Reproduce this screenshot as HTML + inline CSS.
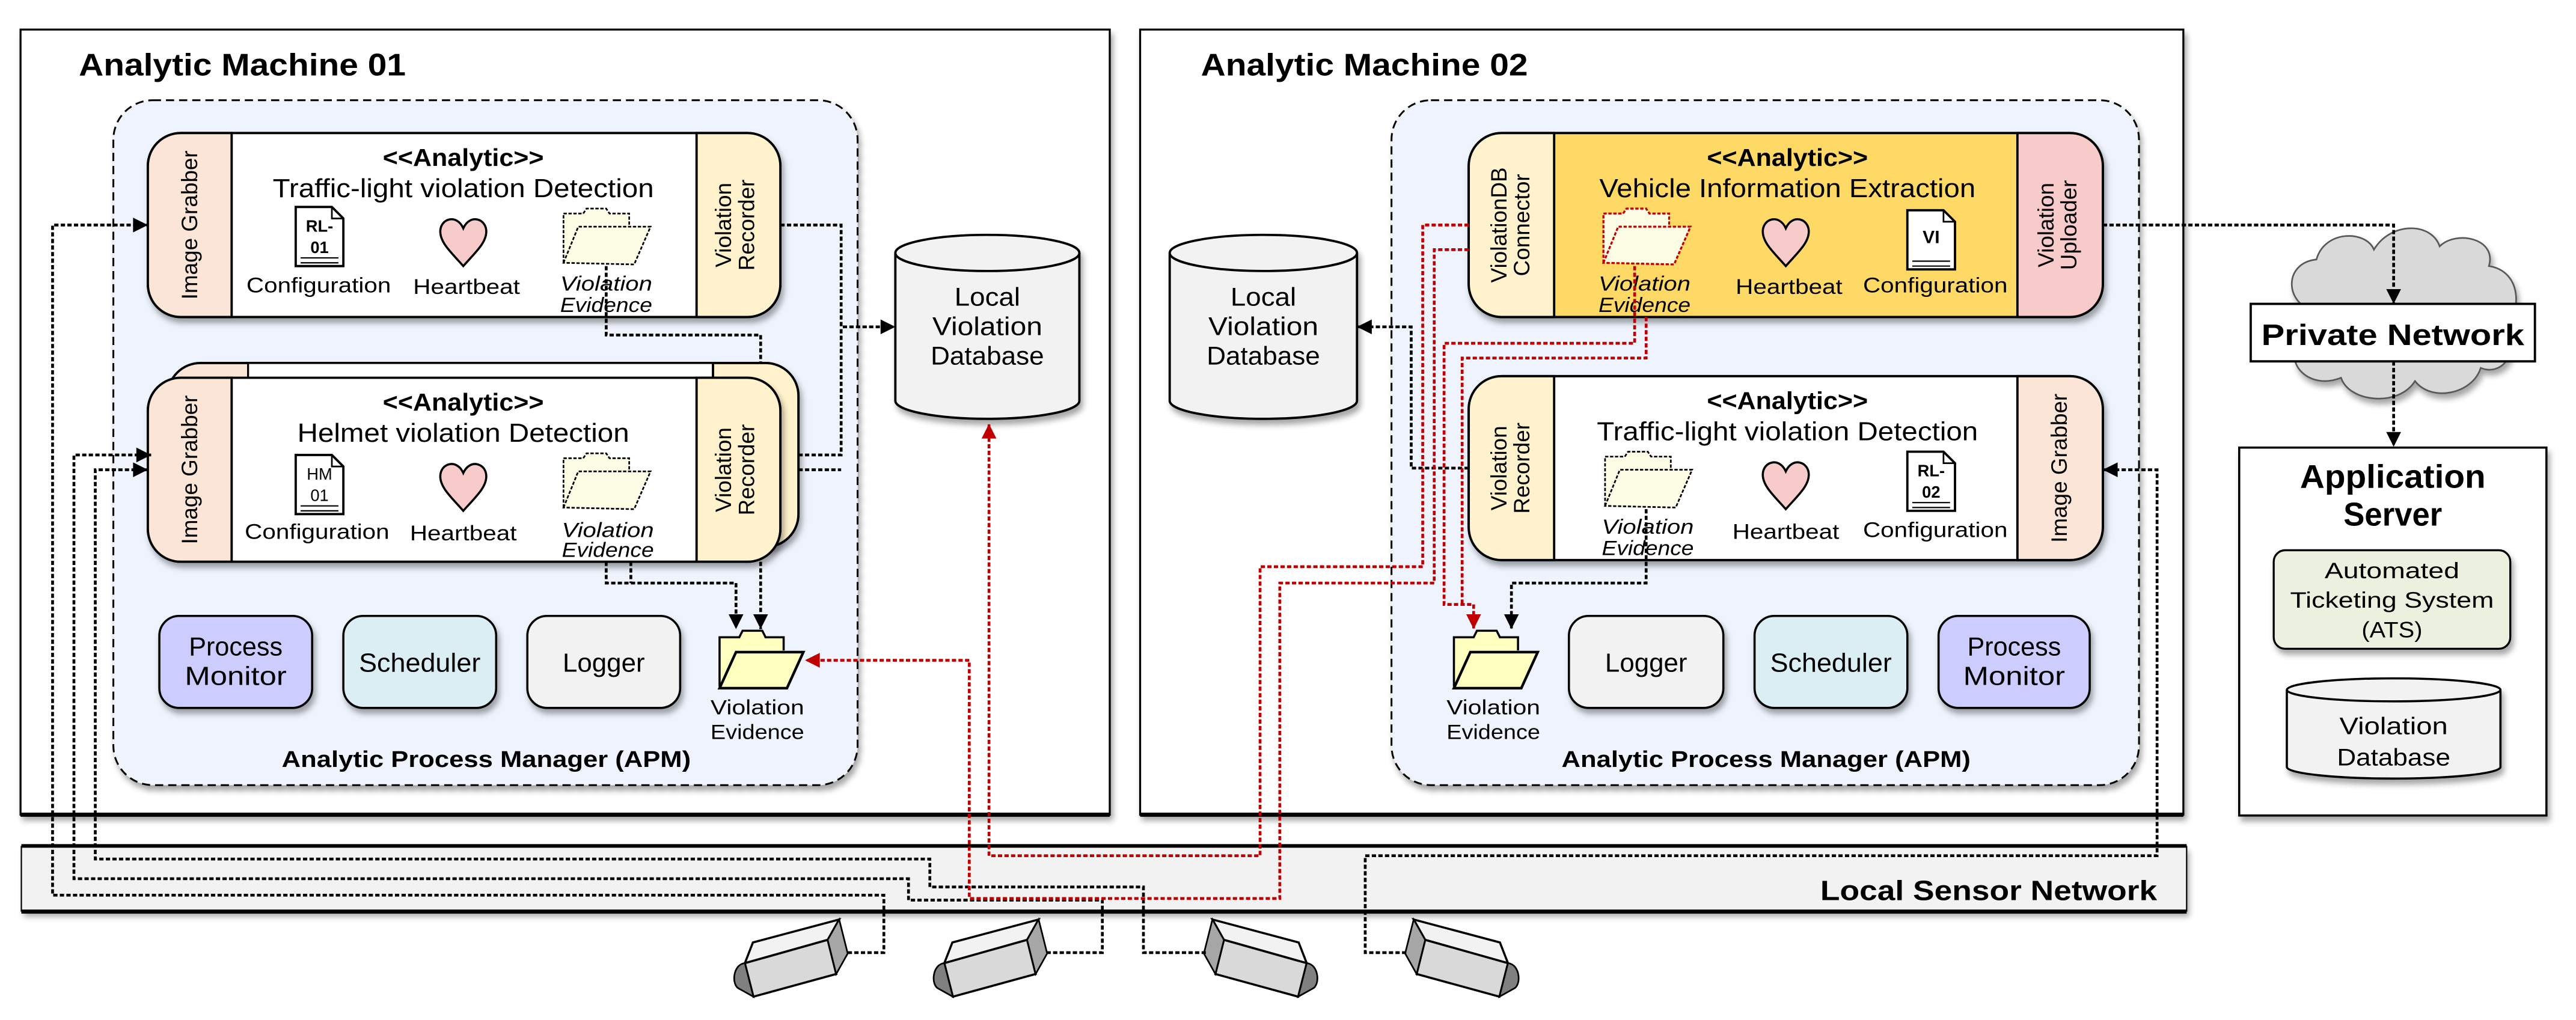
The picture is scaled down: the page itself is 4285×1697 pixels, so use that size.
<!DOCTYPE html>
<html><head><meta charset="utf-8"><style>
html,body{margin:0;padding:0;background:#fff;}
svg{display:block;}
text{font-family:"Liberation Sans Narrow","Liberation Sans",sans-serif;fill:#000;}
.b{font-weight:bold;}
.it{font-style:italic;}
.v{font-size:13.5px;font-family:"Liberation Sans",sans-serif;}
</style></head><body>
<svg width="4285" height="1697" viewBox="0 0 1568 621" preserveAspectRatio="none" xmlns="http://www.w3.org/2000/svg">
<defs>
<filter id="sh" x="-10%" y="-10%" width="130%" height="140%"><feDropShadow dx="1.5" dy="3" stdDeviation="1.8" flood-color="#000" flood-opacity="0.35"/></filter>
<marker id="abig" viewBox="0 0 10 10" refX="10" refY="5" markerWidth="12" markerHeight="9" orient="auto" markerUnits="userSpaceOnUse"><path d="M0,0 L10,5 L0,10 Z" fill="#000"/></marker>
<marker id="arbig" viewBox="0 0 10 10" refX="10" refY="5" markerWidth="12" markerHeight="9" orient="auto" markerUnits="userSpaceOnUse"><path d="M0,0 L10,5 L0,10 Z" fill="#c00000"/></marker>
<g id="heart"><path d="M0,15 C-7,7 -14,1 -14,-6 C-14,-14 -4,-17 0,-8 C4,-17 14,-14 14,-6 C14,1 7,7 0,15 Z" fill="#f8cbcb" stroke="#000" stroke-width="1.3"/></g>
<g id="fold"><path d="M1,34 L1,4 L13,4 L15,1 L27,1 L29,4 L41,4 L41,12" fill="#fefee6" stroke="#000" stroke-width="1" stroke-dasharray="2 1"/><path d="M1,34 L10,12 L54,12 L44,35 Z" fill="#fefee6" stroke="#000" stroke-width="1" stroke-dasharray="2 1"/></g>
<g id="foldr"><path d="M1,34 L1,4 L13,4 L15,1 L27,1 L29,4 L41,4 L41,12" fill="#fefee6" stroke="#c00000" stroke-width="1.2" stroke-dasharray="2 1"/><path d="M1,34 L10,12 L54,12 L44,35 Z" fill="#fefee6" stroke="#c00000" stroke-width="1.2" stroke-dasharray="2 1"/></g>
<g id="foldf"><path d="M1,34 L1,4 L13,4 L15,0 L27,0 L29,4 L40,4 L40,12" fill="#ffffc0" stroke="#000" stroke-width="1.3"/><path d="M1,35 L11,13 L52,13 L42,35 Z" fill="#ffffc0" stroke="#000" stroke-width="1.6"/></g>
<g id="doc"><path d="M0,0 L22,0 L29,7 L29,36 L0,36 Z" fill="#fff" stroke="#000" stroke-width="1.4"/><path d="M22,0 L22,7 L29,7" fill="none" stroke="#000" stroke-width="1"/><path d="M3,31 H26 M3,34 H26" stroke="#000" stroke-width="0.8"/></g>
<g id="cam">
<path d="M458.3,573.8 L510.8,559.8 L503.8,572.2 L453.4,586.4 Z" fill="#f2f2f2" stroke="#000" stroke-width="1.3"/>
<path d="M453.4,586.4 L503.8,572.2 L509,593 L458.6,606.8 Z" fill="#d9d9d9" stroke="#000" stroke-width="1.3"/>
<path d="M510.8,559.8 L516,580.5 L509,593 L503.8,572.2 Z" fill="#a6a6a6" stroke="#000" stroke-width="1"/>
<path d="M453.4,586.4 C446,587 445,600 450,602 L458.6,606.8 Z" fill="#808080" stroke="#000" stroke-width="1"/>
</g>
</defs>

<!-- Machine 01 -->
<rect x="12.5" y="18" width="663" height="478" fill="#fff" stroke="#000" stroke-width="1.2" filter="url(#sh)"/>
<line x1="12.5" y1="496" x2="675.5" y2="496" stroke="#000" stroke-width="2.5"/>
<text x="48" y="46" class="b" font-size="19" textLength="199" lengthAdjust="spacingAndGlyphs">Analytic Machine 01</text>
<rect x="69" y="61" width="453" height="417" rx="24" fill="#eef3fd" stroke="#000" stroke-width="1.1" stroke-dasharray="5 3" filter="url(#sh)"/>

<!-- Analytic 1 -->
<g filter="url(#sh)">
<path d="M110,81 H455 A20,20 0 0 1 475,101 V173 A20,20 0 0 1 455,193 H110 A20,20 0 0 1 90,173 V101 A20,20 0 0 1 110,81 Z" fill="#fff" stroke="#000" stroke-width="1.4"/>
</g>
<path d="M110,81 H141 V193 H110 A20,20 0 0 1 90,173 V101 A20,20 0 0 1 110,81 Z" fill="#fbe5d6" stroke="#000" stroke-width="1.4"/>
<path d="M424,81 H455 A20,20 0 0 1 475,101 V173 A20,20 0 0 1 455,193 H424 Z" fill="#fff2cc" stroke="#000" stroke-width="1.4"/>
<text transform="translate(120,137) rotate(-90)" text-anchor="middle" class="v">Image Grabber</text>
<text transform="translate(445,137) rotate(-90)" text-anchor="middle" class="v">Violation</text>
<text transform="translate(459,137) rotate(-90)" text-anchor="middle" class="v">Recorder</text>
<text x="282" y="101" text-anchor="middle" class="b" font-size="15" textLength="98" lengthAdjust="spacingAndGlyphs">&lt;&lt;Analytic&gt;&gt;</text>
<text x="282" y="120" text-anchor="middle" font-size="16" textLength="232" lengthAdjust="spacingAndGlyphs">Traffic-light violation Detection</text>
<use href="#doc" x="180" y="126"/>
<text x="194.5" y="141" text-anchor="middle" class="b" font-size="10">RL-</text>
<text x="194.5" y="154" text-anchor="middle" class="b" font-size="10">01</text>
<use href="#heart" x="282" y="147"/>
<use href="#fold" x="342" y="126"/>
<text x="194" y="178" text-anchor="middle" font-size="13" textLength="88" lengthAdjust="spacingAndGlyphs">Configuration</text>
<text x="284" y="179" text-anchor="middle" font-size="13" textLength="65" lengthAdjust="spacingAndGlyphs">Heartbeat</text>
<text x="369" y="177" text-anchor="middle" class="it" font-size="12.5" textLength="56" lengthAdjust="spacingAndGlyphs">Violation</text>
<text x="369" y="190" text-anchor="middle" class="it" font-size="12.5" textLength="56" lengthAdjust="spacingAndGlyphs">Evidence</text>

<!-- Analytic 2 (helmet) back card -->
<g filter="url(#sh)">
<path d="M122,221 H466 A20,20 0 0 1 486,241 V313 A20,20 0 0 1 466,333 H122 A20,20 0 0 1 102,313 V241 A20,20 0 0 1 122,221 Z" fill="#fbe5d6" stroke="#000" stroke-width="1.4"/>
</g>
<rect x="151" y="221" width="283" height="10" fill="#fff" stroke="#000" stroke-width="1.2"/>
<path d="M434,221 H466 A20,20 0 0 1 486,241 V313 A20,20 0 0 1 466,333 H434 Z" fill="#fff2cc" stroke="#000" stroke-width="1.4"/>
<g filter="url(#sh)">
<path d="M110,230 H455 A20,20 0 0 1 475,250 V322 A20,20 0 0 1 455,342 H110 A20,20 0 0 1 90,322 V250 A20,20 0 0 1 110,230 Z" fill="#fff" stroke="#000" stroke-width="1.4"/>
</g>
<path d="M110,230 H141 V342 H110 A20,20 0 0 1 90,322 V250 A20,20 0 0 1 110,230 Z" fill="#fbe5d6" stroke="#000" stroke-width="1.4"/>
<path d="M424,230 H455 A20,20 0 0 1 475,250 V322 A20,20 0 0 1 455,342 H424 Z" fill="#fff2cc" stroke="#000" stroke-width="1.4"/>
<text transform="translate(120,286) rotate(-90)" text-anchor="middle" class="v">Image Grabber</text>
<text transform="translate(445,286) rotate(-90)" text-anchor="middle" class="v">Violation</text>
<text transform="translate(459,286) rotate(-90)" text-anchor="middle" class="v">Recorder</text>
<text x="282" y="250" text-anchor="middle" class="b" font-size="15" textLength="98" lengthAdjust="spacingAndGlyphs">&lt;&lt;Analytic&gt;&gt;</text>
<text x="282" y="269" text-anchor="middle" font-size="16" textLength="202" lengthAdjust="spacingAndGlyphs">Helmet violation Detection</text>
<use href="#doc" x="180" y="277"/>
<text x="194.5" y="292" text-anchor="middle" font-size="10">HM</text>
<text x="194.5" y="305" text-anchor="middle" font-size="10">01</text>
<use href="#heart" x="282" y="296"/>
<use href="#fold" x="342" y="275"/>
<text x="193" y="328" text-anchor="middle" font-size="13" textLength="88" lengthAdjust="spacingAndGlyphs">Configuration</text>
<text x="282" y="329" text-anchor="middle" font-size="13" textLength="65" lengthAdjust="spacingAndGlyphs">Heartbeat</text>
<text x="370" y="327" text-anchor="middle" class="it" font-size="12.5" textLength="56" lengthAdjust="spacingAndGlyphs">Violation</text>
<text x="370" y="339" text-anchor="middle" class="it" font-size="12.5" textLength="56" lengthAdjust="spacingAndGlyphs">Evidence</text>

<!-- bottom row 01 -->
<rect x="97" y="375" width="93" height="56" rx="12" fill="#ccccff" stroke="#000" stroke-width="1.3" filter="url(#sh)"/>
<text x="143.5" y="399" text-anchor="middle" font-size="16" textLength="57" lengthAdjust="spacingAndGlyphs">Process</text>
<text x="143.5" y="417" text-anchor="middle" font-size="16" textLength="62" lengthAdjust="spacingAndGlyphs">Monitor</text>
<rect x="209" y="375" width="93" height="56" rx="12" fill="#daeef3" stroke="#000" stroke-width="1.3" filter="url(#sh)"/>
<text x="255.5" y="409" text-anchor="middle" font-size="16" textLength="74" lengthAdjust="spacingAndGlyphs">Scheduler</text>
<rect x="321" y="375" width="93" height="56" rx="12" fill="#f2f2f2" stroke="#000" stroke-width="1.3" filter="url(#sh)"/>
<text x="367.5" y="409" text-anchor="middle" font-size="16" textLength="50" lengthAdjust="spacingAndGlyphs">Logger</text>
<use href="#foldf" x="437" y="384"/>
<text x="461" y="435" text-anchor="middle" font-size="12.5" textLength="57" lengthAdjust="spacingAndGlyphs">Violation</text>
<text x="461" y="450" text-anchor="middle" font-size="12.5" textLength="57" lengthAdjust="spacingAndGlyphs">Evidence</text>
<text x="296" y="467" text-anchor="middle" class="b" font-size="14" textLength="249" lengthAdjust="spacingAndGlyphs">Analytic Process Manager (APM)</text>

<!-- Local DB 01 -->
<g filter="url(#sh)">
<path d="M545,154 V244 A56,11 0 0 0 657,244 V154" fill="#f2f2f2" stroke="#000" stroke-width="1.4"/>
<ellipse cx="601" cy="154" rx="56" ry="11" fill="#f2f2f2" stroke="#000" stroke-width="1.4"/>
</g>
<text x="601" y="186" text-anchor="middle" font-size="15.5" textLength="40" lengthAdjust="spacingAndGlyphs">Local</text>
<text x="601" y="204" text-anchor="middle" font-size="15.5" textLength="67" lengthAdjust="spacingAndGlyphs">Violation</text>
<text x="601" y="222" text-anchor="middle" font-size="15.5" textLength="69" lengthAdjust="spacingAndGlyphs">Database</text>

<!-- Machine 02 -->
<rect x="694" y="18" width="635" height="478" fill="#fff" stroke="#000" stroke-width="1.2" filter="url(#sh)"/>
<line x1="694" y1="496" x2="1329" y2="496" stroke="#000" stroke-width="2.5"/>
<text x="731" y="46" class="b" font-size="19" textLength="199" lengthAdjust="spacingAndGlyphs">Analytic Machine 02</text>
<rect x="847" y="61" width="455" height="417" rx="24" fill="#eef3fd" stroke="#000" stroke-width="1.1" stroke-dasharray="5 3" filter="url(#sh)"/>

<!-- Vehicle info -->
<g filter="url(#sh)">
<path d="M914,81 H1260 A20,20 0 0 1 1280,101 V173 A20,20 0 0 1 1260,193 H914 A20,20 0 0 1 894,173 V101 A20,20 0 0 1 914,81 Z" fill="#ffd966" stroke="#000" stroke-width="1.4"/>
</g>
<path d="M914,81 H946 V193 H914 A20,20 0 0 1 894,173 V101 A20,20 0 0 1 914,81 Z" fill="#fff2cc" stroke="#000" stroke-width="1.4"/>
<path d="M1228,81 H1260 A20,20 0 0 1 1280,101 V173 A20,20 0 0 1 1260,193 H1228 Z" fill="#f8cbcb" stroke="#000" stroke-width="1.4"/>
<text transform="translate(917,137) rotate(-90)" text-anchor="middle" class="v">ViolationDB</text>
<text transform="translate(931,137) rotate(-90)" text-anchor="middle" class="v">Connector</text>
<text transform="translate(1250,137) rotate(-90)" text-anchor="middle" class="v">Violation</text>
<text transform="translate(1264,137) rotate(-90)" text-anchor="middle" class="v">Uploader</text>
<text x="1088" y="101" text-anchor="middle" class="b" font-size="15" textLength="98" lengthAdjust="spacingAndGlyphs">&lt;&lt;Analytic&gt;&gt;</text>
<text x="1088" y="120" text-anchor="middle" font-size="16" textLength="229" lengthAdjust="spacingAndGlyphs">Vehicle Information Extraction</text>
<use href="#foldr" x="975" y="126"/>
<use href="#heart" x="1087" y="147"/>
<use href="#doc" x="1161" y="128"/>
<text x="1175.5" y="148" text-anchor="middle" class="b" font-size="11">VI</text>
<text x="1001" y="177" text-anchor="middle" class="it" font-size="12.5" textLength="56" lengthAdjust="spacingAndGlyphs">Violation</text>
<text x="1001" y="190" text-anchor="middle" class="it" font-size="12.5" textLength="56" lengthAdjust="spacingAndGlyphs">Evidence</text>
<text x="1089" y="179" text-anchor="middle" font-size="13" textLength="65" lengthAdjust="spacingAndGlyphs">Heartbeat</text>
<text x="1178" y="178" text-anchor="middle" font-size="13" textLength="88" lengthAdjust="spacingAndGlyphs">Configuration</text>

<!-- Traffic 02 -->
<g filter="url(#sh)">
<path d="M914,229 H1260 A20,20 0 0 1 1280,249 V321 A20,20 0 0 1 1260,341 H914 A20,20 0 0 1 894,321 V249 A20,20 0 0 1 914,229 Z" fill="#fff" stroke="#000" stroke-width="1.4"/>
</g>
<path d="M914,229 H946 V341 H914 A20,20 0 0 1 894,321 V249 A20,20 0 0 1 914,229 Z" fill="#fff2cc" stroke="#000" stroke-width="1.4"/>
<path d="M1228,229 H1260 A20,20 0 0 1 1280,249 V321 A20,20 0 0 1 1260,341 H1228 Z" fill="#fbe5d6" stroke="#000" stroke-width="1.4"/>
<text transform="translate(917,285) rotate(-90)" text-anchor="middle" class="v">Violation</text>
<text transform="translate(931,285) rotate(-90)" text-anchor="middle" class="v">Recorder</text>
<text transform="translate(1258,285) rotate(-90)" text-anchor="middle" class="v">Image Grabber</text>
<text x="1088" y="249" text-anchor="middle" class="b" font-size="15" textLength="98" lengthAdjust="spacingAndGlyphs">&lt;&lt;Analytic&gt;&gt;</text>
<text x="1088" y="268" text-anchor="middle" font-size="16" textLength="232" lengthAdjust="spacingAndGlyphs">Traffic-light violation Detection</text>
<use href="#fold" x="976" y="274"/>
<use href="#heart" x="1087" y="295"/>
<use href="#doc" x="1161" y="275"/>
<text x="1175.5" y="290" text-anchor="middle" class="b" font-size="10">RL-</text>
<text x="1175.5" y="303" text-anchor="middle" class="b" font-size="10">02</text>
<text x="1003" y="325" text-anchor="middle" class="it" font-size="12.5" textLength="56" lengthAdjust="spacingAndGlyphs">Violation</text>
<text x="1003" y="338" text-anchor="middle" class="it" font-size="12.5" textLength="56" lengthAdjust="spacingAndGlyphs">Evidence</text>
<text x="1087" y="328" text-anchor="middle" font-size="13" textLength="65" lengthAdjust="spacingAndGlyphs">Heartbeat</text>
<text x="1178" y="327" text-anchor="middle" font-size="13" textLength="88" lengthAdjust="spacingAndGlyphs">Configuration</text>

<!-- bottom row 02 -->
<use href="#foldf" x="884" y="384"/>
<text x="909" y="435" text-anchor="middle" font-size="12.5" textLength="57" lengthAdjust="spacingAndGlyphs">Violation</text>
<text x="909" y="450" text-anchor="middle" font-size="12.5" textLength="57" lengthAdjust="spacingAndGlyphs">Evidence</text>
<rect x="955" y="375" width="94" height="56" rx="12" fill="#f2f2f2" stroke="#000" stroke-width="1.3" filter="url(#sh)"/>
<text x="1002" y="409" text-anchor="middle" font-size="16" textLength="50" lengthAdjust="spacingAndGlyphs">Logger</text>
<rect x="1068" y="375" width="93" height="56" rx="12" fill="#daeef3" stroke="#000" stroke-width="1.3" filter="url(#sh)"/>
<text x="1114.5" y="409" text-anchor="middle" font-size="16" textLength="74" lengthAdjust="spacingAndGlyphs">Scheduler</text>
<rect x="1180" y="375" width="92" height="56" rx="12" fill="#ccccff" stroke="#000" stroke-width="1.3" filter="url(#sh)"/>
<text x="1226" y="399" text-anchor="middle" font-size="16" textLength="57" lengthAdjust="spacingAndGlyphs">Process</text>
<text x="1226" y="417" text-anchor="middle" font-size="16" textLength="62" lengthAdjust="spacingAndGlyphs">Monitor</text>
<text x="1075" y="467" text-anchor="middle" class="b" font-size="14" textLength="249" lengthAdjust="spacingAndGlyphs">Analytic Process Manager (APM)</text>

<!-- Local DB 02 -->
<g filter="url(#sh)">
<path d="M712,154 V244 A57,11 0 0 0 826,244 V154" fill="#f2f2f2" stroke="#000" stroke-width="1.4"/>
<ellipse cx="769" cy="154" rx="57" ry="11" fill="#f2f2f2" stroke="#000" stroke-width="1.4"/>
</g>
<text x="769" y="186" text-anchor="middle" font-size="15.5" textLength="40" lengthAdjust="spacingAndGlyphs">Local</text>
<text x="769" y="204" text-anchor="middle" font-size="15.5" textLength="67" lengthAdjust="spacingAndGlyphs">Violation</text>
<text x="769" y="222" text-anchor="middle" font-size="15.5" textLength="69" lengthAdjust="spacingAndGlyphs">Database</text>

<!-- Cloud & Private network -->
<path d="M1410,190 C1390,185 1390,160 1410,158 C1415,140 1440,140 1445,152 C1455,135 1480,135 1485,150 C1495,140 1520,145 1515,162 C1535,165 1535,190 1525,198 C1535,210 1525,230 1510,224 C1505,240 1480,245 1470,232 C1460,248 1430,245 1425,230 C1405,238 1390,220 1400,210 C1390,205 1395,192 1410,190 Z" fill="#d9d9d9" stroke="#595959" stroke-width="1" filter="url(#sh)"/>
<rect x="1370" y="185" width="173" height="35" fill="#fff" stroke="#000" stroke-width="1.4"/>
<text x="1456.5" y="210" text-anchor="middle" class="b" font-size="18" textLength="160" lengthAdjust="spacingAndGlyphs">Private Network</text>

<!-- App server -->
<rect x="1363" y="272.5" width="187" height="224" fill="#fff" stroke="#000" stroke-width="1.3" filter="url(#sh)"/>
<text x="1456.5" y="297" text-anchor="middle" class="b" font-size="20" textLength="113" lengthAdjust="spacingAndGlyphs">Application</text>
<text x="1456.5" y="320" text-anchor="middle" class="b" font-size="20" textLength="60" lengthAdjust="spacingAndGlyphs">Server</text>
<rect x="1384" y="335" width="144" height="60" rx="7" fill="#ebf1de" stroke="#000" stroke-width="1.2" filter="url(#sh)"/>
<text x="1456" y="352" text-anchor="middle" font-size="13.5" textLength="82" lengthAdjust="spacingAndGlyphs">Automated</text>
<text x="1456" y="370" text-anchor="middle" font-size="13.5" textLength="124" lengthAdjust="spacingAndGlyphs">Ticketing System</text>
<text x="1456" y="388" text-anchor="middle" font-size="13.5" textLength="37" lengthAdjust="spacingAndGlyphs">(ATS)</text>
<g filter="url(#sh)">
<path d="M1392,420 V467 A65,7 0 0 0 1522,467 V420" fill="#f2f2f2" stroke="#000" stroke-width="1.3"/>
<ellipse cx="1457" cy="420" rx="65" ry="7" fill="#f2f2f2" stroke="#000" stroke-width="1.3"/>
</g>
<text x="1457" y="447" text-anchor="middle" font-size="14.5" textLength="66" lengthAdjust="spacingAndGlyphs">Violation</text>
<text x="1457" y="466" text-anchor="middle" font-size="14.5" textLength="69" lengthAdjust="spacingAndGlyphs">Database</text>

<!-- Local sensor network -->
<rect x="13" y="515" width="1318" height="40" fill="#f2f2f2" filter="url(#sh)"/>
<line x1="13" y1="515" x2="1331" y2="515" stroke="#000" stroke-width="2.2"/>
<line x1="13" y1="555" x2="1331" y2="555" stroke="#000" stroke-width="2.5"/>
<line x1="13" y1="515" x2="13" y2="555" stroke="#000" stroke-width="0.8"/>
<line x1="1331" y1="515" x2="1331" y2="555" stroke="#000" stroke-width="0.8"/>
<text x="1313" y="548" text-anchor="end" class="b" font-size="17" textLength="205" lengthAdjust="spacingAndGlyphs">Local Sensor Network</text>

<!-- cameras -->
<use href="#cam"/>
<use href="#cam" transform="translate(121.4,0)"/>
<use href="#cam" transform="translate(1370.2,0) scale(-1,1) translate(121.4,0)"/>
<use href="#cam" transform="translate(1492.7,0) scale(-1,1) translate(121.4,0)"/>

<!-- black connectors -->
<g fill="none" stroke="#000" stroke-width="1.7" stroke-dasharray="2.6 1.4">
<path d="M516,580 H538 V545 H32 V137 H90" marker-end="url(#abig)"/>
<path d="M637,580 H671 V548 H553 V535 H45 V277 H92" marker-end="url(#abig)"/>
<path d="M734,580 H696 V540 H566 V523 H58 V286 H90" marker-end="url(#abig)"/>
<path d="M856,580 H831 V521 H1313 V286 H1280" marker-end="url(#abig)"/>
<path d="M475,137 H512 V199 H545" marker-end="url(#abig)"/>
<path d="M486,277 H512 V199"/>
<path d="M486,286 H512"/>
<path d="M369,162 V204 H463 V221"/>
<path d="M369,342 V355 H448 V383" marker-end="url(#abig)"/>
<path d="M384,342 V355"/>
<path d="M463,342 V383" marker-end="url(#abig)"/>
<path d="M1280,137 H1457 V185" marker-end="url(#abig)"/>
<path d="M1457,220 V272" marker-end="url(#abig)"/>
<path d="M894,285 H859 V199 H826" marker-end="url(#abig)"/>
<path d="M1002,310 V355 H920 V383" marker-end="url(#abig)"/>
</g>
<!-- red connectors -->
<g fill="none" stroke="#c00000" stroke-width="1.7" stroke-dasharray="2.6 1.4">
<path d="M894,137 H866 V345 H767 V521 H602 V258" marker-end="url(#arbig)"/>
<path d="M894,152 H873 V355 H779 V547 H590 V402 H490" marker-end="url(#arbig)"/>
<path d="M995,162 V209 H879 V368 H897 V383" marker-end="url(#arbig)"/>
<path d="M1002,193 V218 H890 V368"/>
</g>
</svg>
</body></html>
